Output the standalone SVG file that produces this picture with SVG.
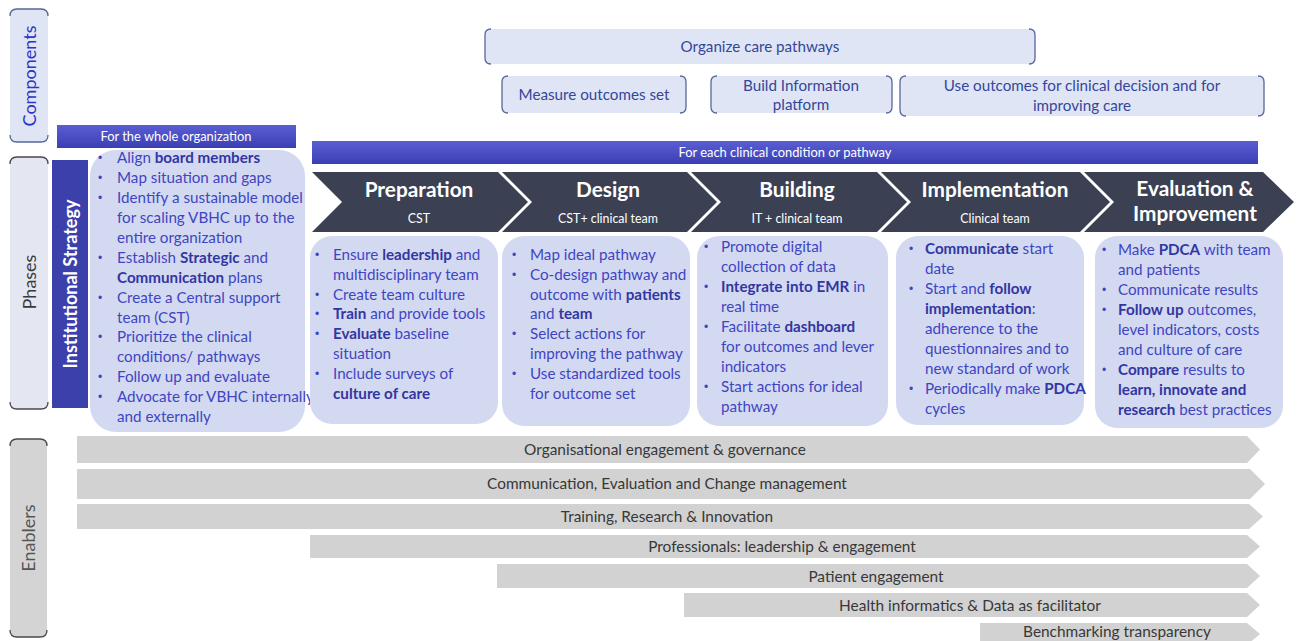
<svg xmlns="http://www.w3.org/2000/svg" width="1297" height="641" viewBox="0 0 1297 641">
<defs>
<linearGradient id="gBlue" x1="0" y1="0" x2="0" y2="1">
<stop offset="0" stop-color="#5a5ed2"/>
<stop offset="1" stop-color="#3a3fb3"/>
</linearGradient>
<style>
.lbl{font-family:Lato,"Liberation Sans",sans-serif;font-size:18px}
.comp{fill:#dfe5f5}
.brk{fill:none;stroke:#56679a;stroke-width:1.3}
.brkd{fill:none;stroke:#4a4a4a;stroke-width:1.3}
.ctext{font-family:Lato,"Liberation Sans",sans-serif;font-size:15.2px;fill:#34469a;text-anchor:middle}
.bar{fill:url(#gBlue)}
.bartext{font-family:Lato,"Liberation Sans",sans-serif;font-size:12.9px;fill:#ffffff;text-anchor:middle}
.chev{fill:#3b4153}
.ct{font-family:Lato,"Liberation Sans",sans-serif;font-size:20.8px;font-weight:bold;fill:#ffffff;text-anchor:middle}
.cs{font-family:Lato,"Liberation Sans",sans-serif;font-size:12.4px;fill:#ffffff;text-anchor:middle}
.box{fill:#d3d9f1}
.bt{font-family:Lato,"Liberation Sans",sans-serif;font-size:15.2px;fill:#3f45c2}
.bt tspan.b{font-weight:bold;fill:#3236a2}
.bul{font-family:"Liberation Sans",sans-serif;font-size:12px;fill:#3f45c2}
.en{fill:#d2d2d2}
.et{font-family:Lato,"Liberation Sans",sans-serif;font-size:15.4px;fill:#383838;text-anchor:middle}
</style>
</defs>
<rect width="1297" height="641" fill="#ffffff"/>

<!-- Left side labels -->
<g id="label-components">
<rect x="10" y="9" width="38" height="133" rx="6" class="comp"/>
<path class="brk" d="M10,16 Q10,9 17,9 H41 Q48,9 48,16"/>
<path class="brk" d="M10,135 Q10,142 17,142 H41 Q48,142 48,135"/>
<text class="lbl" transform="translate(36,76) rotate(-90)" text-anchor="middle" fill="#2d35c8">Components</text>
</g>
<g id="label-phases">
<rect x="10" y="157" width="38" height="252" rx="6" fill="#e4e7f1"/>
<path class="brkd" d="M10,164 Q10,157 17,157 H41 Q48,157 48,164"/>
<path class="brkd" d="M10,402 Q10,409 17,409 H41 Q48,409 48,402"/>
<text class="lbl" transform="translate(36,282) rotate(-90)" text-anchor="middle" fill="#3a3a3a">Phases</text>
</g>
<g id="label-enablers">
<rect x="10" y="439" width="37" height="198" rx="6" fill="#d4d4d4"/>
<path class="brkd" d="M10,446 Q10,439 17,439 H40 Q47,439 47,446"/>
<path class="brkd" d="M10,630 Q10,637 17,637 H40 Q47,637 47,630"/>
<text class="lbl" transform="translate(35,538) rotate(-90)" text-anchor="middle" fill="#555555" font-size="19">Enablers</text>
</g>

<!-- Components -->
<g id="comp-organize">
<rect x="485" y="29" width="550" height="35" rx="7" class="comp"/>
<path class="brk" d="M491,29 Q485,29 485,35 V58 Q485,64 491,64"/>
<path class="brk" d="M1029,29 Q1035,29 1035,35 V58 Q1035,64 1029,64"/>
<text class="ctext" x="760" y="52">Organize care pathways</text>
</g>
<g id="comp-measure">
<rect x="502" y="76" width="184" height="37" rx="7" class="comp"/>
<path class="brk" d="M508,76 Q502,76 502,82 V107 Q502,113 508,113"/>
<path class="brk" d="M680,76 Q686,76 686,82 V107 Q686,113 680,113"/>
<text class="ctext" x="594" y="100">Measure outcomes set</text>
</g>
<g id="comp-build">
<rect x="711" y="76" width="181" height="37" rx="7" class="comp"/>
<path class="brk" d="M717,76 Q711,76 711,82 V107 Q711,113 717,113"/>
<path class="brk" d="M886,76 Q892,76 892,82 V107 Q892,113 886,113"/>
<text class="ctext" x="801" y="91">Build Information</text>
<text class="ctext" x="801" y="110">platform</text>
</g>
<g id="comp-use">
<rect x="900" y="76" width="364" height="40" rx="7" class="comp"/>
<path class="brk" d="M906,76 Q900,76 900,82 V110 Q900,116 906,116"/>
<path class="brk" d="M1258,76 Q1264,76 1264,82 V110 Q1264,116 1258,116"/>
<text class="ctext" x="1082" y="91">Use outcomes for clinical decision and for</text>
<text class="ctext" x="1082" y="111">improving care</text>
</g>

<!-- Institutional strategy -->
<g id="whole-org">
<rect x="57" y="125" width="239" height="23" class="bar"/>
<text class="bartext" x="176" y="141">For the whole organization</text>
</g>
<g id="institutional-strategy">
<rect x="52" y="160" width="36" height="248" fill="#3c40aa"/>
<text transform="translate(77,284) rotate(-90)" text-anchor="middle" font-family="Lato,'Liberation Sans',sans-serif" font-size="18" font-weight="bold" fill="#ffffff">Institutional Strategy</text>
</g>
<g id="box-strategy">
<rect x="90" y="150" width="215" height="282" rx="26" class="box"/>
<g class="bul">
<text x="98" y="162">•</text><text x="98" y="182">•</text><text x="98" y="202">•</text><text x="98" y="262">•</text><text x="98" y="302">•</text><text x="98" y="341">•</text><text x="98" y="381">•</text><text x="98" y="401">•</text>
</g>
<text class="bt" x="117" y="163">Align <tspan class="b">board members</tspan></text>
<text class="bt" x="117" y="183">Map situation and gaps</text>
<text class="bt" x="117" y="203">Identify a sustainable model</text>
<text class="bt" x="117" y="223">for scaling VBHC up to the</text>
<text class="bt" x="117" y="243">entire organization</text>
<text class="bt" x="117" y="263">Establish <tspan class="b">Strategic</tspan> and</text>
<text class="bt" x="117" y="283"><tspan class="b">Communication</tspan> plans</text>
<text class="bt" x="117" y="303">Create a Central support</text>
<text class="bt" x="117" y="323">team (CST)</text>
<text class="bt" x="117" y="342">Prioritize the clinical</text>
<text class="bt" x="117" y="362">conditions/ pathways</text>
<text class="bt" x="117" y="382">Follow up and evaluate</text>
<text class="bt" x="117" y="402">Advocate for VBHC internally</text>
<text class="bt" x="117" y="422">and externally</text>
</g>

<!-- Clinical pathway bar -->
<g id="each-condition">
<rect x="312" y="141" width="946" height="23" class="bar"/>
<text class="bartext" x="785" y="157">For each clinical condition or pathway</text>
</g>

<!-- Chevrons -->
<g id="phase-preparation">
<path class="chev" d="M312,172 H498 L528,202 L498,232 H312 L342,202 Z"/>
<text class="ct" x="419" y="197">Preparation</text>
<text class="cs" x="419" y="223">CST</text>
</g>
<g id="phase-design">
<path class="chev" d="M502,172 H687 L717,202 L687,232 H502 L532,202 Z"/>
<text class="ct" x="608" y="197">Design</text>
<text class="cs" x="608" y="223">CST+ clinical team</text>
</g>
<g id="phase-building">
<path class="chev" d="M691,172 H877 L907,202 L877,232 H691 L721,202 Z"/>
<text class="ct" x="797" y="197">Building</text>
<text class="cs" x="797" y="223">IT + clinical team</text>
</g>
<g id="phase-implementation">
<path class="chev" d="M881,172 H1080 L1110,202 L1080,232 H881 L911,202 Z"/>
<text class="ct" x="995" y="197">Implementation</text>
<text class="cs" x="995" y="223">Clinical team</text>
</g>
<g id="phase-evaluation">
<path class="chev" d="M1084,172 H1263 L1294,202 L1263,232 H1084 L1114,202 Z"/>
<text class="ct" x="1195" y="196">Evaluation &amp;</text>
<text class="ct" x="1195" y="221">Improvement</text>
</g>

<!-- Phase boxes -->
<g id="box-preparation">
<rect x="310" y="236" width="188" height="188" rx="22" class="box"/>
<g class="bul"><text x="315" y="259">•</text><text x="315" y="299">•</text><text x="315" y="318">•</text><text x="315" y="338">•</text><text x="315" y="378">•</text></g>
<text class="bt" x="333" y="260">Ensure <tspan class="b">leadership</tspan> and</text>
<text class="bt" x="333" y="280">multidisciplinary team</text>
<text class="bt" x="333" y="300">Create team culture</text>
<text class="bt" x="333" y="319"><tspan class="b">Train</tspan> and provide tools</text>
<text class="bt" x="333" y="339"><tspan class="b">Evaluate</tspan> baseline</text>
<text class="bt" x="333" y="359">situation</text>
<text class="bt" x="333" y="379">Include surveys of</text>
<text class="bt" x="333" y="399"><tspan class="b">culture of care</tspan></text>
</g>
<g id="box-design">
<rect x="502" y="236" width="188" height="190" rx="22" class="box"/>
<g class="bul"><text x="512" y="259">•</text><text x="512" y="279">•</text><text x="512" y="338">•</text><text x="512" y="378">•</text></g>
<text class="bt" x="530" y="260">Map ideal pathway</text>
<text class="bt" x="530" y="280">Co-design pathway and</text>
<text class="bt" x="530" y="300">outcome with <tspan class="b">patients</tspan></text>
<text class="bt" x="530" y="319">and <tspan class="b">team</tspan></text>
<text class="bt" x="530" y="339">Select actions for</text>
<text class="bt" x="530" y="359">improving the pathway</text>
<text class="bt" x="530" y="379">Use standardized tools</text>
<text class="bt" x="530" y="399">for outcome set</text>
</g>
<g id="box-building">
<rect x="697" y="236" width="191" height="190" rx="22" class="box"/>
<g class="bul"><text x="704" y="251">•</text><text x="704" y="291">•</text><text x="704" y="331">•</text><text x="704" y="391">•</text></g>
<text class="bt" x="721" y="252">Promote digital</text>
<text class="bt" x="721" y="272">collection of data</text>
<text class="bt" x="721" y="292"><tspan class="b">Integrate into EMR</tspan> in</text>
<text class="bt" x="721" y="312">real time</text>
<text class="bt" x="721" y="332">Facilitate <tspan class="b">dashboard</tspan></text>
<text class="bt" x="721" y="352">for outcomes and lever</text>
<text class="bt" x="721" y="372">indicators</text>
<text class="bt" x="721" y="392">Start actions for ideal</text>
<text class="bt" x="721" y="412">pathway</text>
</g>
<g id="box-implementation">
<rect x="896" y="236" width="188" height="189" rx="22" class="box"/>
<g class="bul"><text x="909" y="253">•</text><text x="909" y="293">•</text><text x="909" y="393">•</text></g>
<text class="bt" x="925" y="254"><tspan class="b">Communicate</tspan> start</text>
<text class="bt" x="925" y="274">date</text>
<text class="bt" x="925" y="294">Start and <tspan class="b">follow</tspan></text>
<text class="bt" x="925" y="314"><tspan class="b">implementation</tspan>:</text>
<text class="bt" x="925" y="334">adherence to the</text>
<text class="bt" x="925" y="354">questionnaires and to</text>
<text class="bt" x="925" y="374">new standard of work</text>
<text class="bt" x="925" y="394">Periodically make <tspan class="b">PDCA</tspan></text>
<text class="bt" x="925" y="414">cycles</text>
</g>
<g id="box-evaluation">
<rect x="1095" y="236" width="188" height="192" rx="22" class="box"/>
<g class="bul"><text x="1102" y="254">•</text><text x="1102" y="294">•</text><text x="1102" y="314">•</text><text x="1102" y="374">•</text></g>
<text class="bt" x="1118" y="255">Make <tspan class="b">PDCA</tspan> with team</text>
<text class="bt" x="1118" y="275">and patients</text>
<text class="bt" x="1118" y="295">Communicate results</text>
<text class="bt" x="1118" y="315"><tspan class="b">Follow up</tspan> outcomes,</text>
<text class="bt" x="1118" y="335">level indicators, costs</text>
<text class="bt" x="1118" y="355">and culture of care</text>
<text class="bt" x="1118" y="375"><tspan class="b">Compare</tspan> results to</text>
<text class="bt" x="1118" y="395"><tspan class="b">learn, innovate and</tspan></text>
<text class="bt" x="1118" y="415"><tspan class="b">research</tspan> best practices</text>
</g>

<!-- Enablers -->
<g id="enabler-1"><path class="en" d="M77,436 H1247 L1260,449.5 L1247,463 H77 Z"/><text class="et" x="665" y="455">Organisational engagement &amp; governance</text></g>
<g id="enabler-2"><path class="en" d="M77,469 H1250 L1265,484 L1250,499 H77 Z"/><text class="et" x="667" y="489">Communication, Evaluation and Change management</text></g>
<g id="enabler-3"><path class="en" d="M77,504 H1249 L1263,516.5 L1249,529 H77 Z"/><text class="et" x="667" y="522">Training, Research &amp; Innovation</text></g>
<g id="enabler-4"><path class="en" d="M310,535 H1247 L1260,546.5 L1247,558 H310 Z"/><text class="et" x="782" y="552">Professionals: leadership &amp; engagement</text></g>
<g id="enabler-5"><path class="en" d="M497,564 H1247 L1260,576 L1247,588 H497 Z"/><text class="et" x="876" y="582">Patient engagement</text></g>
<g id="enabler-6"><path class="en" d="M684,593 H1247 L1260,605 L1247,617 H684 Z"/><text class="et" x="970" y="611">Health informatics &amp; Data as facilitator</text></g>
<g id="enabler-7"><path class="en" d="M980,623 H1247 L1260,634 L1247,645 H980 Z"/><text class="et" x="1117" y="637">Benchmarking transparency</text></g>
</svg>
